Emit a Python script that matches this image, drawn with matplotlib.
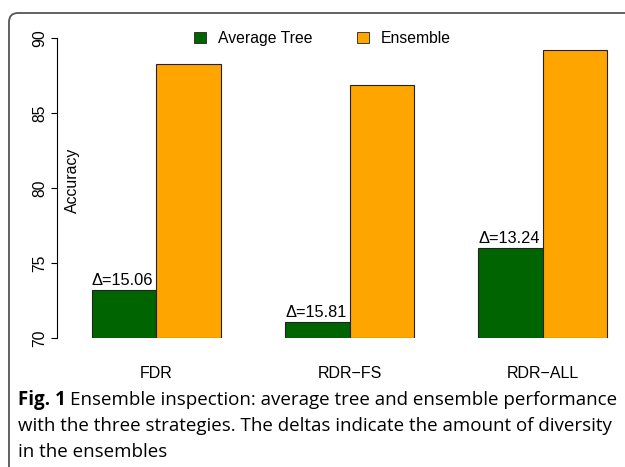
import numpy as np
import matplotlib.pyplot as plt
from matplotlib.patches import Patch, PathPatch
from matplotlib.path import Path

# data
strategies = ["FDR", "RDR\u2212FS", "RDR\u2212ALL"]
avg_tree = [73.20, 71.05, 75.98]
ensemble = [88.26, 86.86, 89.22]
deltas = ["15.06", "15.81", "13.24"]

W, H = 625, 467
plt.rcParams['font.family'] = ['Liberation Sans', 'DejaVu Sans']
fig = plt.figure(figsize=(W / 100, H / 100), dpi=100)
fig.patch.set_facecolor('white')

# frame of the figure panel: left and top edge with a rounded corner
r = 0.09
fx, fy = 0.09, 4.54
frame_path = Path([(fx, -1.0), (fx, fy - r), (fx, fy), (fx + r, fy), (7.0, fy)],
                  [Path.MOVETO, Path.LINETO, Path.CURVE3, Path.CURVE3, Path.LINETO])
fig.patches.append(PathPatch(frame_path, transform=fig.dpi_scale_trans, fill=False,
                             edgecolor='#555555', linewidth=1.3))

# axes placed in pixel terms
left, right, bottom, top = 57, 620, H - 338, H - 38
ax = fig.add_axes([left / W, bottom / H, (right - left) / W, (top - bottom) / H])
px = 64.4
ax.set_xlim(-(92 - left) / px, (right - 92) / px)
ax.set_ylim(70, 90)

x = np.arange(len(strategies)) * 3
green = '#006400'
orange = '#FFA500'
ax.bar(x + 0.5, np.array(avg_tree) - 70, bottom=70, width=1, color=green,
       edgecolor='#222222', linewidth=0.8)
ax.bar(x + 1.5, np.array(ensemble) - 70, bottom=70, width=1, color=orange,
       edgecolor='#222222', linewidth=0.8)

for xi, v, d in zip(x, avg_tree, deltas):
    ax.text(xi, v + 0.12, "\u0394=" + d, ha='left', va='bottom', fontsize=11.8)

for s in ['top', 'right', 'bottom']:
    ax.spines[s].set_visible(False)
ax.spines['left'].set_linewidth(0.8)
ax.set_yticks([70, 75, 80, 85, 90])
ax.tick_params(axis='y', length=4, width=0.8, pad=3, labelsize=11.3)
for lbl in ax.get_yticklabels():
    lbl.set_rotation(90)
    lbl.set_va('center')
ax.set_xticks(x + 1)
ax.set_xticklabels(strategies)
ax.tick_params(axis='x', length=0, pad=20, labelsize=11.5)

ax.text(-(92 - 72) / px, 80.5, "Accuracy", rotation=90, ha='center', va='center',
        fontsize=11.4)

handles = [Patch(facecolor=green, edgecolor='#222222', linewidth=0.6, label='Average Tree'),
           Patch(facecolor=orange, edgecolor='#222222', linewidth=0.6, label='Ensemble')]
fig.legend(handles=handles, loc='center left', bbox_to_anchor=(194 / W, 1 - 38.5 / H),
           ncol=2, frameon=False, fontsize=11.3, handlelength=0.75, handleheight=0.75,
           handletextpad=0.8, columnspacing=2.8, borderaxespad=0, borderpad=0)

# caption
cap_font = ['Open Sans', 'DejaVu Sans']
cap_size = 13.5
renderer = fig.canvas.get_renderer()
t1 = fig.text(18 / W, 1 - 405 / H, "Fig. 1", fontsize=cap_size, fontweight='bold',
              family=cap_font, va='baseline')
bb = t1.get_window_extent(renderer)
fig.text(bb.x1 / W + 4 / W, 1 - 405 / H,
         "Ensemble inspection: average tree and ensemble performance",
         fontsize=cap_size, family=cap_font, va='baseline')
fig.text(18 / W, 1 - 431 / H,
         "with the three strategies. The deltas indicate the amount of diversity",
         fontsize=cap_size, family=cap_font, va='baseline')
fig.text(18 / W, 1 - 457 / H, "in the ensembles",
         fontsize=cap_size, family=cap_font, va='baseline')

fig.savefig("out.png", dpi=100)
